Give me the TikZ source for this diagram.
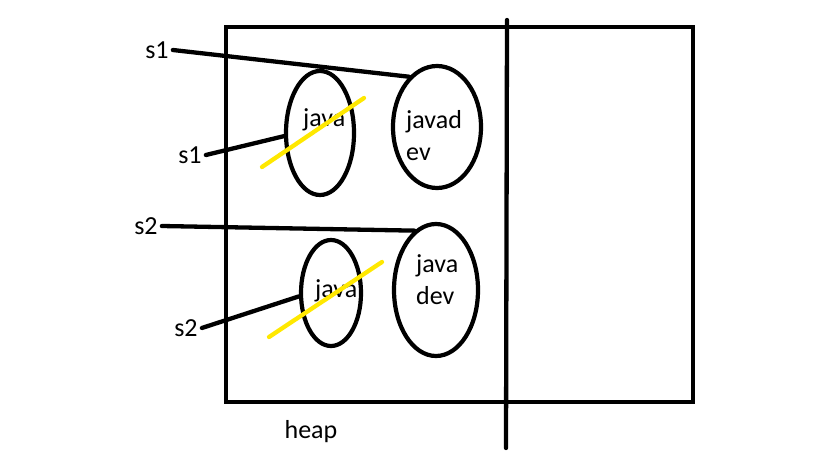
\documentclass[tikz,border=0pt]{standalone}
\usepackage{fontspec}
\setmainfont{Carlito}
\usetikzlibrary{shapes.geometric}
\begin{document}
\begin{tikzpicture}[x=1pt,y=-1pt,
  stroke/.style={line width=4.3pt,line cap=round},
  blob/.style={ellipse,draw,line width=4.2pt,inner sep=0pt},
  txt/.style={font=\fontsize{26}{32}\selectfont,inner sep=0pt,anchor=base west},
  lbl/.style={font=\fontsize{26}{32}\selectfont,inner sep=4pt},
  strike/.style={line width=4.3pt,line cap=round,draw={rgb,255:red,255;green,232;blue,0}}]
\useasboundingbox (0,0) rectangle (819,460);
% heap box and divider
\draw[line width=4.2pt] (226,27) rectangle (693,402);
\draw[stroke] (507,20) -- (506,448);
% objects
\node[blob,minimum width=68pt,minimum height=124pt] (e1) at (320,133) {};
\node[blob,minimum width=88pt,minimum height=122pt] (e2) at (437,127) {};
\node[blob,minimum width=60pt,minimum height=106pt] (e3) at (331,293) {};
\node[blob,minimum width=84pt,minimum height=132pt] (e4) at (436,290) {};
% texts inside
\node[txt] (t1) at (303,126) {java};
\node[txt] (t2) at (406,128) {javad};
\node[txt] (t2b) at (406,160) {ev};
\node[txt] (t3) at (315,297) {java};
\node[txt] (t4) at (416,272) {java};
\node[txt] (t4b) at (416,304) {dev};
% labels
\node[lbl] (s1a) at (157,50) {s1};
\node[lbl] (s1b) at (190,155) {s1};
\node[lbl] (s2a) at (146,226) {s2};
\node[lbl] (s2b) at (186,328) {s2};
\node[lbl] (heap) at (311,432) {heap};
% references
\draw[stroke] (s1a.east) -- (e2.119);
\draw[stroke] (s1b.east) -- (e1.185);
\draw[stroke] (s2a.east) -- (e4.110);
\draw[stroke] (s2b.east) -- (e3.186);
% strike-throughs
\draw[strike] (262,167) -- (364,98);
\draw[strike] (269,337) -- (382,262);
\end{tikzpicture}
\end{document}
